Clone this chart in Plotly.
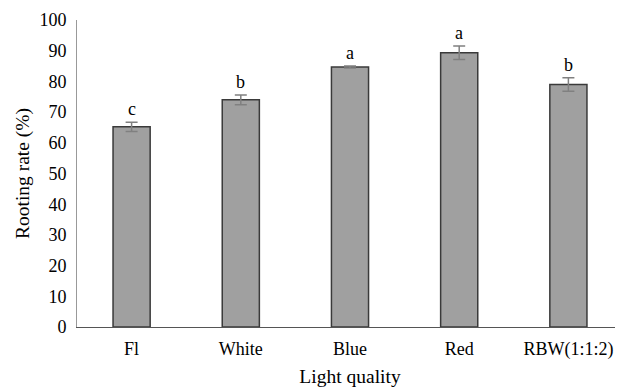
import plotly.graph_objects as go

categories = ["Fl", "White", "Blue", "Red", "RBW(1:1:2)"]
values = [65.2, 74.0, 84.7, 89.3, 79.0]
errors = [1.5, 1.6, 0.3, 2.2, 2.2]
letters = ["c", "b", "a", "a", "b"]
y_ticks = [0, 10, 20, 30, 40, 50, 60, 70, 80, 90, 100]

font = "Liberation Serif, Times New Roman, serif"

fig = go.Figure()
fig.add_trace(go.Bar(
    x=categories, y=values, width=0.34,
    marker=dict(color="#a0a0a0", line=dict(color="#3a3a3a", width=1.5)),
    error_y=dict(type="data", array=errors, visible=True, color="#808080",
                 thickness=1.5, width=6),
))
for c, v, e, l in zip(categories, values, errors, letters):
    fig.add_annotation(x=c, y=v + e, text=l, showarrow=False, yanchor="bottom",
                       yshift=1, font=dict(family=font, size=18, color="#000"))

fig.update_layout(
    width=615, height=383,
    margin=dict(l=69, r=0, t=12, b=64),
    paper_bgcolor="white", plot_bgcolor="white",
    showlegend=False,
    font=dict(family=font, size=18, color="#000"),
)
fig.update_xaxes(
    range=[-0.5, 4.5], showline=True, linecolor="#555", linewidth=1.2,
    ticks="", showgrid=False, ticklabelstandoff=5,
    title=dict(text="Light quality", font=dict(family=font, size=19.5), standoff=10),
    tickfont=dict(family=font, size=18),
)
fig.update_yaxes(
    range=[0, 100], tickvals=y_ticks, showline=True, linecolor="#999", linewidth=1,
    ticks="", showgrid=False, zeroline=False, ticklabelstandoff=6,
    title=dict(text="Rooting rate (%)", font=dict(family=font, size=19.5), standoff=4),
    tickfont=dict(family=font, size=18),
)
fig.write_html("out.html")
